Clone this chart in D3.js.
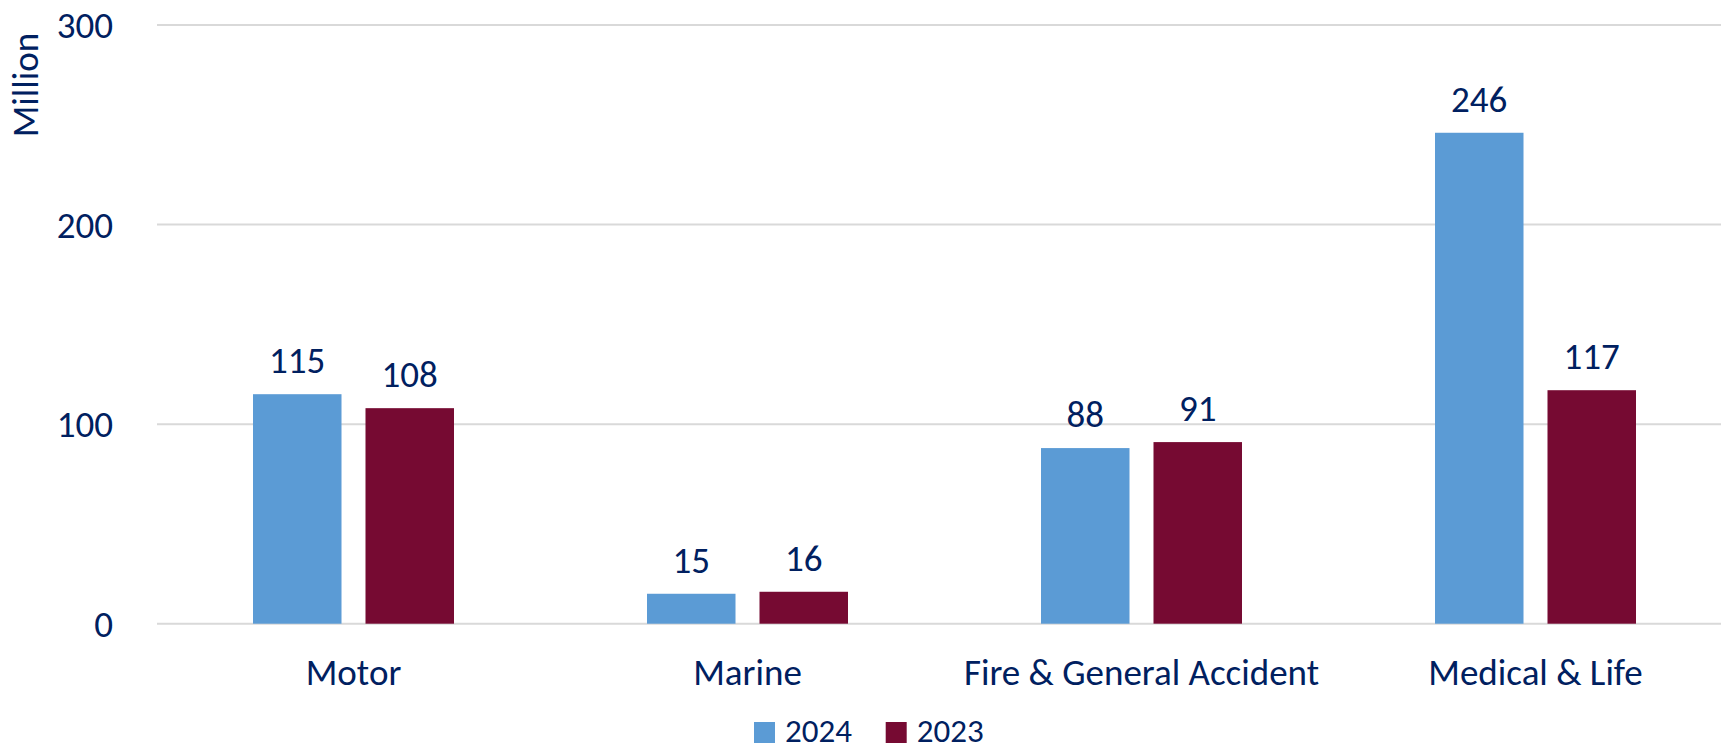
<!DOCTYPE html>
<html>
<head>
<meta charset="utf-8">
<script src="https://cdn.jsdelivr.net/npm/d3@7"></script>
<style>
  body { margin: 0; background: #fff; }
  svg text { font-family: Carlito, Lato, sans-serif; fill: #002060; }
</style>
</head>
<body>
<div class="chart"></div>
<script>
var width = 1721,
    height = 754,
    fontSize = "37px";

// data
var categories = ['Motor', 'Marine', 'Fire & General Accident', 'Medical & Life'];
var seriesNames = ['2024', '2023'];
var values2024 = [115, 15, 88, 246];
var values2023 = [108, 16, 91, 117];
var yTicks = [0, 100, 200, 300];
var colors = ['#5B9BD5', '#760A32'];

var rows = categories.map(function (c, i) {
    return { name: c, vals: [values2024[i], values2023[i]] };
});

var svg = d3.select(".chart").append("svg")
    .attr("width", width)
    .attr("height", height);

var x0 = d3.scaleBand()
    .domain(categories)
    .range([156.5, 1732.5])
    .padding(0);

var pair = 201;
var x1 = d3.scaleBand()
    .domain(seriesNames)
    .range([x0.bandwidth() / 2 - pair / 2, x0.bandwidth() / 2 + pair / 2])
    .paddingInner(0.2133);

var y = d3.scaleLinear()
    .domain([0, 300])
    .range([623.7, 25]);

// gridlines
svg.append("g")
    .selectAll("line")
    .data(yTicks)
    .enter()
    .append("line")
    .attr("x1", 157)
    .attr("x2", width)
    .attr("y1", function (d) { return y(d); })
    .attr("y2", function (d) { return y(d); })
    .attr("stroke", "#D9D9D9")
    .attr("stroke-width", 2);

// y tick labels
svg.append("g")
    .selectAll("text")
    .data(yTicks)
    .enter()
    .append("text")
    .attr("x", 113)
    .attr("y", function (d) { return y(d); })
    .attr("dy", "0.36em")
    .style("text-anchor", "end")
    .style("font-size", fontSize)
    .text(function (d) { return d; });

svg.append("text")
    .attr("transform", "translate(38,85) rotate(-90)")
    .style("text-anchor", "middle")
    .style("font-size", fontSize)
    .text("Million");

var groups = svg.selectAll(".grp")
    .data(rows)
    .enter()
    .append("g")
    .attr("class", "grp")
    .attr("transform", function (d) { return "translate(" + x0(d.name) + ",0)"; });

groups.selectAll("rect")
    .data(function (d) { return d.vals; })
    .enter()
    .append("rect")
    .attr("x", function (d, i) { return x1(seriesNames[i]); })
    .attr("y", function (d) { return y(d); })
    .attr("width", x1.bandwidth())
    .attr("height", function (d) { return y(0) - y(d); })
    .attr("fill", function (d, i) { return colors[i]; });

groups.selectAll(".lbl")
    .data(function (d) { return d.vals; })
    .enter()
    .append("text")
    .attr("class", "lbl")
    .attr("x", function (d, i) { return x1(seriesNames[i]) + x1.bandwidth() / 2; })
    .attr("y", function (d) { return y(d) - 21; })
    .style("text-anchor", "middle")
    .style("font-size", fontSize)
    .text(function (d) { return d; });

// category labels
svg.append("g")
    .selectAll("text")
    .data(categories)
    .enter()
    .append("text")
    .attr("x", function (d) { return x0(d) + x0.bandwidth() / 2; })
    .attr("y", 685)
    .style("text-anchor", "middle")
    .style("font-size", fontSize)
    .text(function (d) { return d; });

// legend (the reference crops it at the bottom edge; kept just inside)
var legX = [754, 885.7];
var leg = svg.append("g")
    .selectAll("g")
    .data(seriesNames)
    .enter()
    .append("g")
    .attr("transform", function (d, i) { return "translate(" + legX[i] + ",722)"; });
leg.append("rect")
    .attr("width", 21)
    .attr("height", 21)
    .attr("fill", function (d, i) { return colors[i]; });
leg.append("text")
    .attr("x", 31)
    .attr("y", 20)
    .style("font-size", "33px")
    .text(function (d) { return d; });
</script>
</body>
</html>
